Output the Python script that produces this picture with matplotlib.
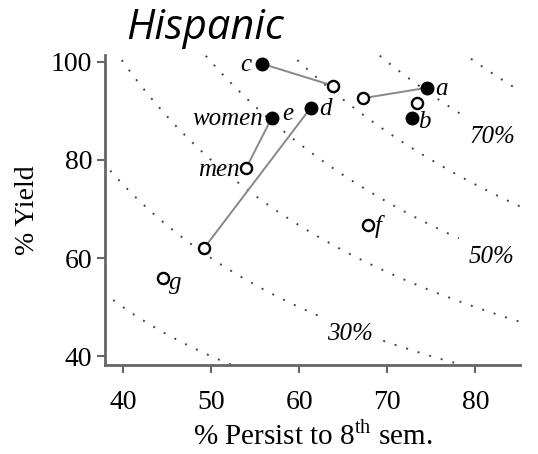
import numpy as np
import matplotlib
matplotlib.use('Agg')
import matplotlib.pyplot as plt

plt.rcParams['font.family'] = ['Liberation Serif', 'DejaVu Serif']
plt.rcParams['mathtext.fontset'] = 'custom'
plt.rcParams['mathtext.rm'] = 'Liberation Serif'

# dotted iso-lines: persist * yield = level
levels = [20, 30, 40, 50, 60, 70, 80]
level_labels = ['30%', '50%', '70%']
label_pos_x = [65.8, 81.8, 82.0]
label_pos_y = [44.6, 60.2, 84.6]

# filled points (one group) and open points (other group)
filled_x = [55.8, 74.5, 72.8, 56.9, 61.3]
filled_y = [99.6, 94.7, 88.6, 88.6, 90.6]
open_x = [63.9, 67.3, 73.4, 54.0, 49.2, 67.8, 44.5]
open_y = [95.1, 92.6, 91.6, 78.4, 62.0, 66.7, 55.9]

# connecting segments (filled index, open index)
pairs = [(0, 0), (1, 1), (3, 3), (4, 4)]

fig = plt.figure(figsize=(5.38, 4.54), dpi=100)
ax = fig.add_axes([0.195, 0.196, 0.772, 0.683])

xs = np.linspace(30, 90, 400)
for lv in levels:
    ys = lv * 100.0 / xs
    if lv in (30, 50, 70):
        i = [30, 50, 70].index(lv)
        gap = np.abs(xs - label_pos_x[i]) < 3.6
        ys = np.where(gap, np.nan, ys)
    ax.plot(xs, ys, color='#444444', lw=1.4, ls=(0, (1, 5.2)), zorder=1)

for t, lx, ly in zip(level_labels, label_pos_x, label_pos_y):
    ax.text(lx, ly, t, style='italic', fontsize=18, ha='center', va='center')

for fi, oi in pairs:
    ax.plot([filled_x[fi], open_x[oi]], [filled_y[fi], open_y[oi]],
            color='#888888', lw=1.4, zorder=2)

ax.plot(open_x, open_y, 'o', ms=8, mfc='white', mec='black', mew=1.7, zorder=3)
ax.plot(filled_x, filled_y, 'o', ms=9, mfc='black', mec='black', zorder=3)

def lab(x, y, s, ha='left', dx=0.0, dy=0.0):
    ax.text(x + dx, y + dy, s, style='italic', fontsize=18, ha=ha, va='center')

lab(filled_x[0], filled_y[0], 'c', ha='right', dx=-1.2, dy=-0.3)
lab(filled_x[1], filled_y[1], 'a', dx=1.0, dy=-0.2)
lab(filled_x[2], filled_y[2], 'b', dx=0.7, dy=-0.9)
lab(filled_x[3], filled_y[3], 'women', ha='right', dx=-1.0, dy=-0.3)
lab(filled_x[3], filled_y[3], 'e', dx=1.2, dy=0.7)
lab(filled_x[4], filled_y[4], 'd', dx=1.0, dy=-0.3)
lab(open_x[3], open_y[3], 'men', ha='right', dx=-0.8, dy=-0.5)
lab(open_x[5], open_y[5], 'f', dx=0.8, dy=-0.3)
lab(open_x[6], open_y[6], 'g', dx=0.7, dy=-0.9)

ax.set_xlim(37.95, 85.1)
ax.set_ylim(38.2, 101.4)
ax.set_xticks([40, 50, 60, 70, 80])
ax.set_yticks([40, 60, 80, 100])
for s in ['top', 'right']:
    ax.spines[s].set_visible(False)
for s in ['left', 'bottom']:
    ax.spines[s].set_color('#666666')
    ax.spines[s].set_linewidth(2)
ax.tick_params(colors='#666666', labelcolor='black', labelsize=20, width=1.5, length=6)
ax.tick_params(axis='x', pad=12)
ax.tick_params(axis='y', pad=3)

ax.set_xlabel(r'% Persist to 8$^{\mathrm{th}}$ sem.', fontsize=21, labelpad=5)
ax.set_ylabel('% Yield', fontsize=20, labelpad=8)

fig.text(0.234, 0.938, 'Hispanic', family=['Open Sans', 'DejaVu Sans'], style='italic',
         fontsize=30, ha='left', va='center')

fig.savefig('out.png', dpi=100)
